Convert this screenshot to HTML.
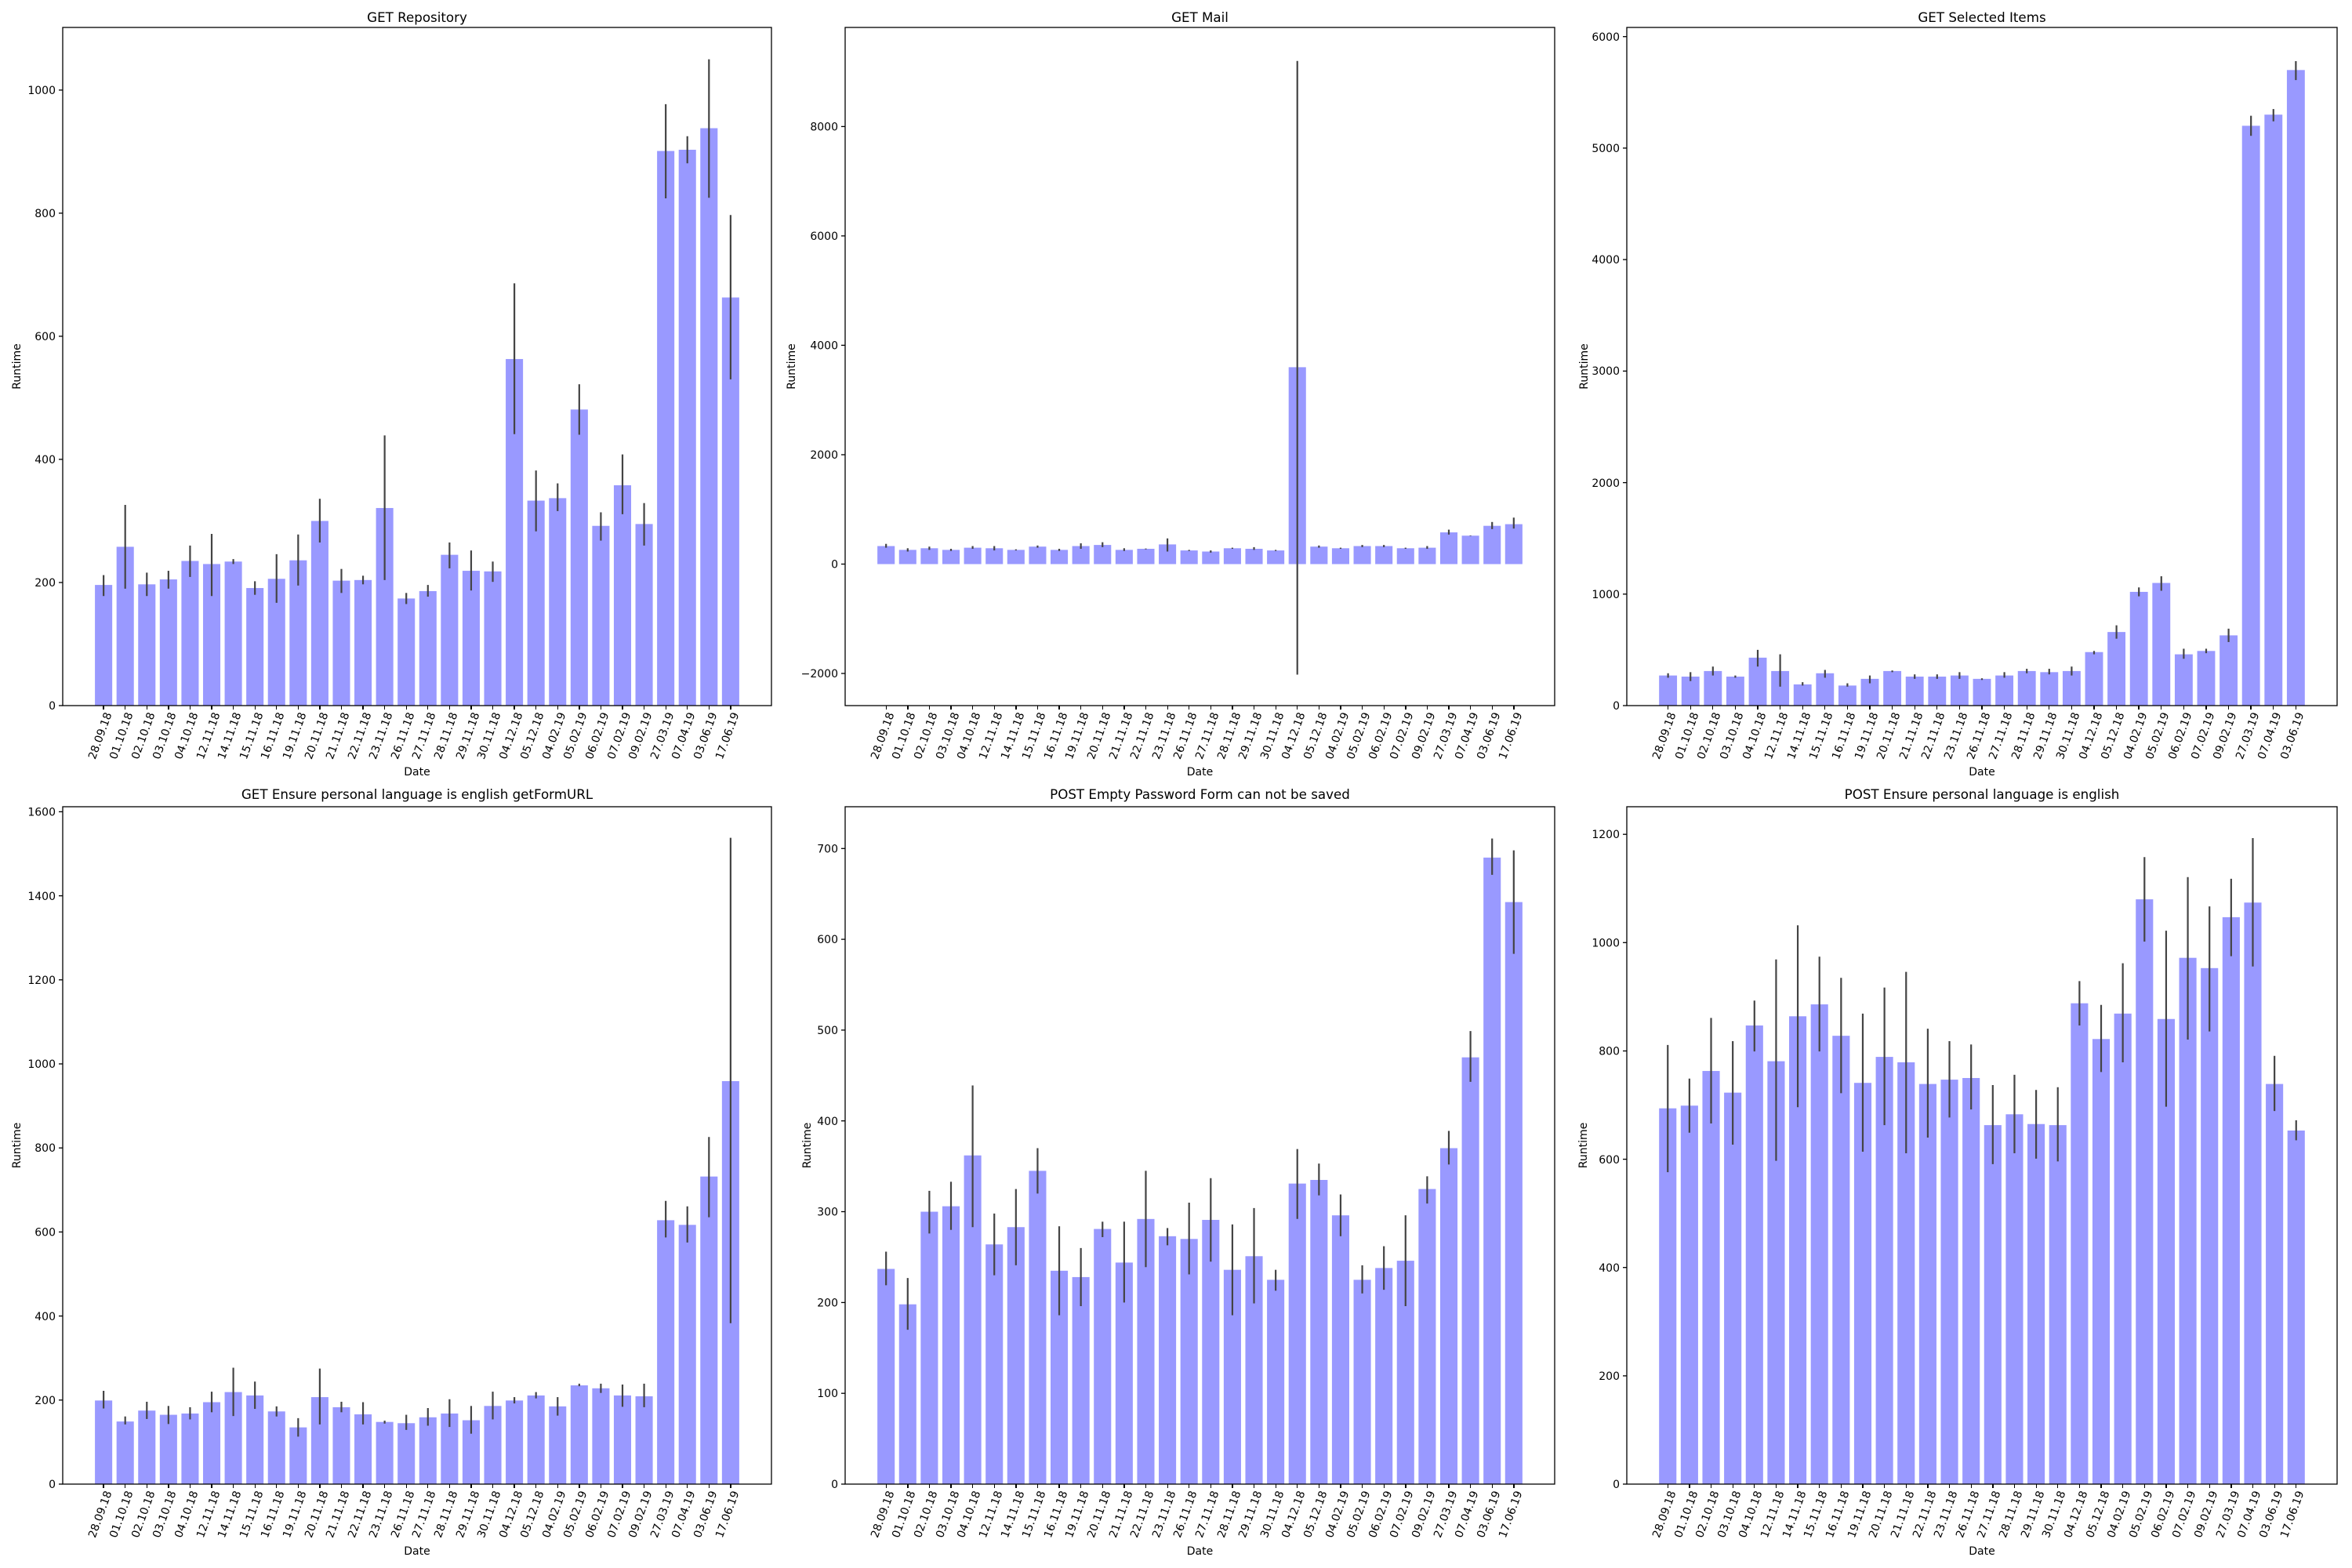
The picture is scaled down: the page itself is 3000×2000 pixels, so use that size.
<!DOCTYPE html>
<html><head><meta charset="utf-8">
<style>
html,body{margin:0;padding:0;background:#fff}
#w{position:relative;width:3000px;height:2000px;overflow:hidden;font-family:"DejaVu Sans","Liberation Sans",sans-serif}
svg.main{position:absolute;left:0;top:0}
.xl{position:absolute;display:flex;height:90px}
.xl div{flex:1;position:relative}
.xl div::before{content:"";position:absolute;left:50%;top:0;width:1.3px;height:5px;background:#000;margin-left:-0.6px}
.xl span{position:absolute;right:50%;top:7px;transform-origin:100% 0;transform:rotate(-70deg);white-space:nowrap;font:14px "DejaVu Sans",sans-serif;line-height:1;color:#000}
text{font-family:"DejaVu Sans","Liberation Sans",sans-serif;fill:#000}
.t{font-size:16.7px}
.k{font-size:14px}
rect.b{fill:#9999ff}
line.e{stroke:#444;stroke-width:2.2px}
</style></head><body><div id="w">
<svg class="main" width="3000" height="2000" viewBox="0 0 3000 2000">
<!-- ===== TL GET Repository ===== -->
<svg x="80" y="35" width="904" height="865" viewBox="-1.89 -1101.7 32.78 1101.7" preserveAspectRatio="none">
<g>
<rect class="b" x="-0.4" y="-196" width="0.8" height="196"/><rect class="b" x="0.6" y="-258" width="0.8" height="258"/><rect class="b" x="1.6" y="-197" width="0.8" height="197"/><rect class="b" x="2.6" y="-205" width="0.8" height="205"/><rect class="b" x="3.6" y="-235" width="0.8" height="235"/><rect class="b" x="4.6" y="-230" width="0.8" height="230"/><rect class="b" x="5.6" y="-234" width="0.8" height="234"/><rect class="b" x="6.6" y="-191" width="0.8" height="191"/><rect class="b" x="7.6" y="-206" width="0.8" height="206"/><rect class="b" x="8.6" y="-236" width="0.8" height="236"/><rect class="b" x="9.6" y="-300" width="0.8" height="300"/><rect class="b" x="10.6" y="-203" width="0.8" height="203"/><rect class="b" x="11.6" y="-204" width="0.8" height="204"/><rect class="b" x="12.6" y="-321" width="0.8" height="321"/><rect class="b" x="13.6" y="-174" width="0.8" height="174"/><rect class="b" x="14.6" y="-186" width="0.8" height="186"/><rect class="b" x="15.6" y="-245" width="0.8" height="245"/><rect class="b" x="16.6" y="-219" width="0.8" height="219"/><rect class="b" x="17.6" y="-218" width="0.8" height="218"/><rect class="b" x="18.6" y="-563" width="0.8" height="563"/><rect class="b" x="19.6" y="-333" width="0.8" height="333"/><rect class="b" x="20.6" y="-337" width="0.8" height="337"/><rect class="b" x="21.6" y="-481" width="0.8" height="481"/><rect class="b" x="22.6" y="-292" width="0.8" height="292"/><rect class="b" x="23.6" y="-358" width="0.8" height="358"/><rect class="b" x="24.6" y="-295" width="0.8" height="295"/><rect class="b" x="25.6" y="-901" width="0.8" height="901"/><rect class="b" x="26.6" y="-903" width="0.8" height="903"/><rect class="b" x="27.6" y="-938" width="0.8" height="938"/><rect class="b" x="28.6" y="-663" width="0.8" height="663"/>
</g><g vector-effect="non-scaling-stroke">
<line class="e" vector-effect="non-scaling-stroke" x1="0" x2="0" y1="-178" y2="-212"/><line class="e" vector-effect="non-scaling-stroke" x1="1" x2="1" y1="-190" y2="-326"/><line class="e" vector-effect="non-scaling-stroke" x1="2" x2="2" y1="-178" y2="-216"/><line class="e" vector-effect="non-scaling-stroke" x1="3" x2="3" y1="-190" y2="-219"/><line class="e" vector-effect="non-scaling-stroke" x1="4" x2="4" y1="-209" y2="-260"/><line class="e" vector-effect="non-scaling-stroke" x1="5" x2="5" y1="-178" y2="-279"/><line class="e" vector-effect="non-scaling-stroke" x1="6" x2="6" y1="-230" y2="-238"/><line class="e" vector-effect="non-scaling-stroke" x1="7" x2="7" y1="-180" y2="-202"/><line class="e" vector-effect="non-scaling-stroke" x1="8" x2="8" y1="-167" y2="-246"/><line class="e" vector-effect="non-scaling-stroke" x1="9" x2="9" y1="-195" y2="-278"/><line class="e" vector-effect="non-scaling-stroke" x1="10" x2="10" y1="-265" y2="-336"/><line class="e" vector-effect="non-scaling-stroke" x1="11" x2="11" y1="-183" y2="-222"/><line class="e" vector-effect="non-scaling-stroke" x1="12" x2="12" y1="-197" y2="-211"/><line class="e" vector-effect="non-scaling-stroke" x1="13" x2="13" y1="-204" y2="-439"/><line class="e" vector-effect="non-scaling-stroke" x1="14" x2="14" y1="-165" y2="-183"/><line class="e" vector-effect="non-scaling-stroke" x1="15" x2="15" y1="-177" y2="-196"/><line class="e" vector-effect="non-scaling-stroke" x1="16" x2="16" y1="-223" y2="-265"/><line class="e" vector-effect="non-scaling-stroke" x1="17" x2="17" y1="-187" y2="-252"/><line class="e" vector-effect="non-scaling-stroke" x1="18" x2="18" y1="-201" y2="-234"/><line class="e" vector-effect="non-scaling-stroke" x1="19" x2="19" y1="-441" y2="-686"/><line class="e" vector-effect="non-scaling-stroke" x1="20" x2="20" y1="-283" y2="-382"/><line class="e" vector-effect="non-scaling-stroke" x1="21" x2="21" y1="-316" y2="-361"/><line class="e" vector-effect="non-scaling-stroke" x1="22" x2="22" y1="-440" y2="-522"/><line class="e" vector-effect="non-scaling-stroke" x1="23" x2="23" y1="-268" y2="-314"/><line class="e" vector-effect="non-scaling-stroke" x1="24" x2="24" y1="-311" y2="-408"/><line class="e" vector-effect="non-scaling-stroke" x1="25" x2="25" y1="-260" y2="-329"/><line class="e" vector-effect="non-scaling-stroke" x1="26" x2="26" y1="-824" y2="-977"/><line class="e" vector-effect="non-scaling-stroke" x1="27" x2="27" y1="-881" y2="-925"/><line class="e" vector-effect="non-scaling-stroke" x1="28" x2="28" y1="-825" y2="-1050"/><line class="e" vector-effect="non-scaling-stroke" x1="29" x2="29" y1="-530" y2="-797"/>
</g></svg>
<rect x="80" y="35" width="904" height="865" fill="none" stroke="#000" stroke-width="1.3"/>
<g stroke="#000" stroke-width="1.3"><line x1="75" x2="80" y1="900" y2="900"/><line x1="75" x2="80" y1="743" y2="743"/><line x1="75" x2="80" y1="585.9" y2="585.9"/><line x1="75" x2="80" y1="428.9" y2="428.9"/><line x1="75" x2="80" y1="271.9" y2="271.9"/><line x1="75" x2="80" y1="114.9" y2="114.9"/></g>
<g class="k" text-anchor="end"><text x="71" y="905">0</text><text x="71" y="748">200</text><text x="71" y="591">400</text><text x="71" y="434">600</text><text x="71" y="277">800</text><text x="71" y="120">1000</text></g>
<text class="t" x="532" y="28" text-anchor="middle">GET Repository</text>
<text class="k" x="532" y="989" text-anchor="middle">Date</text>
<text class="k" transform="translate(26,467.5) rotate(-90)" text-anchor="middle">Runtime</text>

<!-- ===== TM GET Mail ===== -->
<svg x="1078" y="35" width="905" height="865" viewBox="-1.89 -9812 32.78 12399" preserveAspectRatio="none">
<g>
<rect class="b" x="-0.4" y="-330" width="0.8" height="330"/><rect class="b" x="0.6" y="-260" width="0.8" height="260"/><rect class="b" x="1.6" y="-290" width="0.8" height="290"/><rect class="b" x="2.6" y="-260" width="0.8" height="260"/><rect class="b" x="3.6" y="-300" width="0.8" height="300"/><rect class="b" x="4.6" y="-290" width="0.8" height="290"/><rect class="b" x="5.6" y="-260" width="0.8" height="260"/><rect class="b" x="6.6" y="-320" width="0.8" height="320"/><rect class="b" x="7.6" y="-260" width="0.8" height="260"/><rect class="b" x="8.6" y="-330" width="0.8" height="330"/><rect class="b" x="9.6" y="-350" width="0.8" height="350"/><rect class="b" x="10.6" y="-260" width="0.8" height="260"/><rect class="b" x="11.6" y="-280" width="0.8" height="280"/><rect class="b" x="12.6" y="-360" width="0.8" height="360"/><rect class="b" x="13.6" y="-250" width="0.8" height="250"/><rect class="b" x="14.6" y="-230" width="0.8" height="230"/><rect class="b" x="15.6" y="-290" width="0.8" height="290"/><rect class="b" x="16.6" y="-280" width="0.8" height="280"/><rect class="b" x="17.6" y="-250" width="0.8" height="250"/><rect class="b" x="18.6" y="-3600" width="0.8" height="3600"/><rect class="b" x="19.6" y="-320" width="0.8" height="320"/><rect class="b" x="20.6" y="-290" width="0.8" height="290"/><rect class="b" x="21.6" y="-330" width="0.8" height="330"/><rect class="b" x="22.6" y="-330" width="0.8" height="330"/><rect class="b" x="23.6" y="-290" width="0.8" height="290"/><rect class="b" x="24.6" y="-300" width="0.8" height="300"/><rect class="b" x="25.6" y="-580" width="0.8" height="580"/><rect class="b" x="26.6" y="-520" width="0.8" height="520"/><rect class="b" x="27.6" y="-700" width="0.8" height="700"/><rect class="b" x="28.6" y="-730" width="0.8" height="730"/>
</g><g>
<line class="e" vector-effect="non-scaling-stroke" x1="0" x2="0" y1="-300" y2="-370"/><line class="e" vector-effect="non-scaling-stroke" x1="1" x2="1" y1="-230" y2="-290"/><line class="e" vector-effect="non-scaling-stroke" x1="2" x2="2" y1="-260" y2="-320"/><line class="e" vector-effect="non-scaling-stroke" x1="3" x2="3" y1="-240" y2="-280"/><line class="e" vector-effect="non-scaling-stroke" x1="4" x2="4" y1="-280" y2="-330"/><line class="e" vector-effect="non-scaling-stroke" x1="5" x2="5" y1="-250" y2="-330"/><line class="e" vector-effect="non-scaling-stroke" x1="6" x2="6" y1="-250" y2="-270"/><line class="e" vector-effect="non-scaling-stroke" x1="7" x2="7" y1="-300" y2="-340"/><line class="e" vector-effect="non-scaling-stroke" x1="8" x2="8" y1="-240" y2="-280"/><line class="e" vector-effect="non-scaling-stroke" x1="9" x2="9" y1="-280" y2="-380"/><line class="e" vector-effect="non-scaling-stroke" x1="10" x2="10" y1="-310" y2="-400"/><line class="e" vector-effect="non-scaling-stroke" x1="11" x2="11" y1="-240" y2="-290"/><line class="e" vector-effect="non-scaling-stroke" x1="12" x2="12" y1="-270" y2="-285"/><line class="e" vector-effect="non-scaling-stroke" x1="13" x2="13" y1="-230" y2="-470"/><line class="e" vector-effect="non-scaling-stroke" x1="14" x2="14" y1="-240" y2="-260"/><line class="e" vector-effect="non-scaling-stroke" x1="15" x2="15" y1="-210" y2="-250"/><line class="e" vector-effect="non-scaling-stroke" x1="16" x2="16" y1="-280" y2="-300"/><line class="e" vector-effect="non-scaling-stroke" x1="17" x2="17" y1="-260" y2="-310"/><line class="e" vector-effect="non-scaling-stroke" x1="18" x2="18" y1="-240" y2="-260"/><line class="e" vector-effect="non-scaling-stroke" x1="19" x2="19" y1="2020" y2="-9200"/><line class="e" vector-effect="non-scaling-stroke" x1="20" x2="20" y1="-300" y2="-340"/><line class="e" vector-effect="non-scaling-stroke" x1="21" x2="21" y1="-280" y2="-300"/><line class="e" vector-effect="non-scaling-stroke" x1="22" x2="22" y1="-310" y2="-350"/><line class="e" vector-effect="non-scaling-stroke" x1="23" x2="23" y1="-310" y2="-350"/><line class="e" vector-effect="non-scaling-stroke" x1="24" x2="24" y1="-280" y2="-300"/><line class="e" vector-effect="non-scaling-stroke" x1="25" x2="25" y1="-280" y2="-330"/><line class="e" vector-effect="non-scaling-stroke" x1="26" x2="26" y1="-540" y2="-630"/><line class="e" vector-effect="non-scaling-stroke" x1="27" x2="27" y1="-515" y2="-525"/><line class="e" vector-effect="non-scaling-stroke" x1="28" x2="28" y1="-640" y2="-770"/><line class="e" vector-effect="non-scaling-stroke" x1="29" x2="29" y1="-650" y2="-850"/>
</g></svg>
<rect x="1078" y="35" width="905" height="865" fill="none" stroke="#000" stroke-width="1.3"/>
<g stroke="#000" stroke-width="1.3"><line x1="1073" x2="1078" y1="859" y2="859"/><line x1="1073" x2="1078" y1="719.5" y2="719.5"/><line x1="1073" x2="1078" y1="580" y2="580"/><line x1="1073" x2="1078" y1="440.4" y2="440.4"/><line x1="1073" x2="1078" y1="300.9" y2="300.9"/><line x1="1073" x2="1078" y1="161.4" y2="161.4"/></g>
<g class="k" text-anchor="end"><text x="1069" y="864">−2000</text><text x="1069" y="724.5">0</text><text x="1069" y="585">2000</text><text x="1069" y="445.5">4000</text><text x="1069" y="306">6000</text><text x="1069" y="166.5">8000</text></g>
<text class="t" x="1530.5" y="28" text-anchor="middle">GET Mail</text>
<text class="k" x="1530.5" y="989" text-anchor="middle">Date</text>
<text class="k" transform="translate(1014,467.5) rotate(-90)" text-anchor="middle">Runtime</text>

<!-- ===== TR GET Selected Items ===== -->
<svg x="2075" y="35" width="906" height="865" viewBox="-1.84 -6082 31.68 6082" preserveAspectRatio="none">
<g>
<rect class="b" x="-0.4" y="-270" width="0.8" height="270"/><rect class="b" x="0.6" y="-260" width="0.8" height="260"/><rect class="b" x="1.6" y="-310" width="0.8" height="310"/><rect class="b" x="2.6" y="-260" width="0.8" height="260"/><rect class="b" x="3.6" y="-430" width="0.8" height="430"/><rect class="b" x="4.6" y="-310" width="0.8" height="310"/><rect class="b" x="5.6" y="-190" width="0.8" height="190"/><rect class="b" x="6.6" y="-290" width="0.8" height="290"/><rect class="b" x="7.6" y="-180" width="0.8" height="180"/><rect class="b" x="8.6" y="-240" width="0.8" height="240"/><rect class="b" x="9.6" y="-310" width="0.8" height="310"/><rect class="b" x="10.6" y="-260" width="0.8" height="260"/><rect class="b" x="11.6" y="-260" width="0.8" height="260"/><rect class="b" x="12.6" y="-270" width="0.8" height="270"/><rect class="b" x="13.6" y="-240" width="0.8" height="240"/><rect class="b" x="14.6" y="-270" width="0.8" height="270"/><rect class="b" x="15.6" y="-310" width="0.8" height="310"/><rect class="b" x="16.6" y="-300" width="0.8" height="300"/><rect class="b" x="17.6" y="-310" width="0.8" height="310"/><rect class="b" x="18.6" y="-480" width="0.8" height="480"/><rect class="b" x="19.6" y="-660" width="0.8" height="660"/><rect class="b" x="20.6" y="-1020" width="0.8" height="1020"/><rect class="b" x="21.6" y="-1100" width="0.8" height="1100"/><rect class="b" x="22.6" y="-460" width="0.8" height="460"/><rect class="b" x="23.6" y="-490" width="0.8" height="490"/><rect class="b" x="24.6" y="-630" width="0.8" height="630"/><rect class="b" x="25.6" y="-5200" width="0.8" height="5200"/><rect class="b" x="26.6" y="-5300" width="0.8" height="5300"/><rect class="b" x="27.6" y="-5700" width="0.8" height="5700"/>
</g><g>
<line class="e" vector-effect="non-scaling-stroke" x1="0" x2="0" y1="-250" y2="-290"/><line class="e" vector-effect="non-scaling-stroke" x1="1" x2="1" y1="-220" y2="-300"/><line class="e" vector-effect="non-scaling-stroke" x1="2" x2="2" y1="-270" y2="-350"/><line class="e" vector-effect="non-scaling-stroke" x1="3" x2="3" y1="-250" y2="-270"/><line class="e" vector-effect="non-scaling-stroke" x1="4" x2="4" y1="-350" y2="-500"/><line class="e" vector-effect="non-scaling-stroke" x1="5" x2="5" y1="-170" y2="-460"/><line class="e" vector-effect="non-scaling-stroke" x1="6" x2="6" y1="-180" y2="-210"/><line class="e" vector-effect="non-scaling-stroke" x1="7" x2="7" y1="-250" y2="-320"/><line class="e" vector-effect="non-scaling-stroke" x1="8" x2="8" y1="-170" y2="-200"/><line class="e" vector-effect="non-scaling-stroke" x1="9" x2="9" y1="-200" y2="-270"/><line class="e" vector-effect="non-scaling-stroke" x1="10" x2="10" y1="-300" y2="-315"/><line class="e" vector-effect="non-scaling-stroke" x1="11" x2="11" y1="-240" y2="-280"/><line class="e" vector-effect="non-scaling-stroke" x1="12" x2="12" y1="-240" y2="-280"/><line class="e" vector-effect="non-scaling-stroke" x1="13" x2="13" y1="-240" y2="-300"/><line class="e" vector-effect="non-scaling-stroke" x1="14" x2="14" y1="-230" y2="-245"/><line class="e" vector-effect="non-scaling-stroke" x1="15" x2="15" y1="-250" y2="-300"/><line class="e" vector-effect="non-scaling-stroke" x1="16" x2="16" y1="-290" y2="-330"/><line class="e" vector-effect="non-scaling-stroke" x1="17" x2="17" y1="-280" y2="-330"/><line class="e" vector-effect="non-scaling-stroke" x1="18" x2="18" y1="-270" y2="-350"/><line class="e" vector-effect="non-scaling-stroke" x1="19" x2="19" y1="-460" y2="-490"/><line class="e" vector-effect="non-scaling-stroke" x1="20" x2="20" y1="-600" y2="-720"/><line class="e" vector-effect="non-scaling-stroke" x1="21" x2="21" y1="-980" y2="-1060"/><line class="e" vector-effect="non-scaling-stroke" x1="22" x2="22" y1="-1030" y2="-1160"/><line class="e" vector-effect="non-scaling-stroke" x1="23" x2="23" y1="-420" y2="-510"/><line class="e" vector-effect="non-scaling-stroke" x1="24" x2="24" y1="-470" y2="-510"/><line class="e" vector-effect="non-scaling-stroke" x1="25" x2="25" y1="-570" y2="-690"/><line class="e" vector-effect="non-scaling-stroke" x1="26" x2="26" y1="-5110" y2="-5290"/><line class="e" vector-effect="non-scaling-stroke" x1="27" x2="27" y1="-5240" y2="-5350"/><line class="e" vector-effect="non-scaling-stroke" x1="28" x2="28" y1="-5610" y2="-5780"/>
</g></svg>
<rect x="2075" y="35" width="906" height="865" fill="none" stroke="#000" stroke-width="1.3"/>
<g stroke="#000" stroke-width="1.3"><line x1="2070" x2="2075" y1="900" y2="900"/><line x1="2070" x2="2075" y1="757.8" y2="757.8"/><line x1="2070" x2="2075" y1="615.6" y2="615.6"/><line x1="2070" x2="2075" y1="473.3" y2="473.3"/><line x1="2070" x2="2075" y1="331.1" y2="331.1"/><line x1="2070" x2="2075" y1="188.9" y2="188.9"/><line x1="2070" x2="2075" y1="46.7" y2="46.7"/></g>
<g class="k" text-anchor="end"><text x="2066" y="905">0</text><text x="2066" y="763">1000</text><text x="2066" y="621">2000</text><text x="2066" y="478">3000</text><text x="2066" y="336">4000</text><text x="2066" y="194">5000</text><text x="2066" y="52">6000</text></g>
<text class="t" x="2528" y="28" text-anchor="middle">GET Selected Items</text>
<text class="k" x="2528" y="989" text-anchor="middle">Date</text>
<text class="k" transform="translate(2025,467.5) rotate(-90)" text-anchor="middle">Runtime</text>

<!-- ===== BL ===== -->
<svg x="80" y="1029" width="904" height="864" viewBox="-1.89 -1612 32.78 1612" preserveAspectRatio="none">
<g>
<rect class="b" x="-0.4" y="-199" width="0.8" height="199"/><rect class="b" x="0.6" y="-149" width="0.8" height="149"/><rect class="b" x="1.6" y="-175" width="0.8" height="175"/><rect class="b" x="2.6" y="-165" width="0.8" height="165"/><rect class="b" x="3.6" y="-168" width="0.8" height="168"/><rect class="b" x="4.6" y="-195" width="0.8" height="195"/><rect class="b" x="5.6" y="-219" width="0.8" height="219"/><rect class="b" x="6.6" y="-211" width="0.8" height="211"/><rect class="b" x="7.6" y="-173" width="0.8" height="173"/><rect class="b" x="8.6" y="-135" width="0.8" height="135"/><rect class="b" x="9.6" y="-207" width="0.8" height="207"/><rect class="b" x="10.6" y="-183" width="0.8" height="183"/><rect class="b" x="11.6" y="-166" width="0.8" height="166"/><rect class="b" x="12.6" y="-148" width="0.8" height="148"/><rect class="b" x="13.6" y="-145" width="0.8" height="145"/><rect class="b" x="14.6" y="-159" width="0.8" height="159"/><rect class="b" x="15.6" y="-168" width="0.8" height="168"/><rect class="b" x="16.6" y="-152" width="0.8" height="152"/><rect class="b" x="17.6" y="-186" width="0.8" height="186"/><rect class="b" x="18.6" y="-199" width="0.8" height="199"/><rect class="b" x="19.6" y="-211" width="0.8" height="211"/><rect class="b" x="20.6" y="-185" width="0.8" height="185"/><rect class="b" x="21.6" y="-235" width="0.8" height="235"/><rect class="b" x="22.6" y="-228" width="0.8" height="228"/><rect class="b" x="23.6" y="-211" width="0.8" height="211"/><rect class="b" x="24.6" y="-209" width="0.8" height="209"/><rect class="b" x="25.6" y="-628" width="0.8" height="628"/><rect class="b" x="26.6" y="-617" width="0.8" height="617"/><rect class="b" x="27.6" y="-732" width="0.8" height="732"/><rect class="b" x="28.6" y="-959" width="0.8" height="959"/>
</g><g>
<line class="e" vector-effect="non-scaling-stroke" x1="0" x2="0" y1="-180" y2="-222"/><line class="e" vector-effect="non-scaling-stroke" x1="1" x2="1" y1="-142" y2="-161"/><line class="e" vector-effect="non-scaling-stroke" x1="2" x2="2" y1="-155" y2="-196"/><line class="e" vector-effect="non-scaling-stroke" x1="3" x2="3" y1="-143" y2="-186"/><line class="e" vector-effect="non-scaling-stroke" x1="4" x2="4" y1="-154" y2="-183"/><line class="e" vector-effect="non-scaling-stroke" x1="5" x2="5" y1="-171" y2="-220"/><line class="e" vector-effect="non-scaling-stroke" x1="6" x2="6" y1="-162" y2="-277"/><line class="e" vector-effect="non-scaling-stroke" x1="7" x2="7" y1="-179" y2="-244"/><line class="e" vector-effect="non-scaling-stroke" x1="8" x2="8" y1="-161" y2="-185"/><line class="e" vector-effect="non-scaling-stroke" x1="9" x2="9" y1="-113" y2="-157"/><line class="e" vector-effect="non-scaling-stroke" x1="10" x2="10" y1="-142" y2="-275"/><line class="e" vector-effect="non-scaling-stroke" x1="11" x2="11" y1="-171" y2="-196"/><line class="e" vector-effect="non-scaling-stroke" x1="12" x2="12" y1="-142" y2="-195"/><line class="e" vector-effect="non-scaling-stroke" x1="13" x2="13" y1="-144" y2="-151"/><line class="e" vector-effect="non-scaling-stroke" x1="14" x2="14" y1="-129" y2="-165"/><line class="e" vector-effect="non-scaling-stroke" x1="15" x2="15" y1="-139" y2="-181"/><line class="e" vector-effect="non-scaling-stroke" x1="16" x2="16" y1="-136" y2="-202"/><line class="e" vector-effect="non-scaling-stroke" x1="17" x2="17" y1="-120" y2="-186"/><line class="e" vector-effect="non-scaling-stroke" x1="18" x2="18" y1="-154" y2="-220"/><line class="e" vector-effect="non-scaling-stroke" x1="19" x2="19" y1="-192" y2="-207"/><line class="e" vector-effect="non-scaling-stroke" x1="20" x2="20" y1="-204" y2="-219"/><line class="e" vector-effect="non-scaling-stroke" x1="21" x2="21" y1="-163" y2="-207"/><line class="e" vector-effect="non-scaling-stroke" x1="22" x2="22" y1="-233" y2="-239"/><line class="e" vector-effect="non-scaling-stroke" x1="23" x2="23" y1="-217" y2="-239"/><line class="e" vector-effect="non-scaling-stroke" x1="24" x2="24" y1="-184" y2="-237"/><line class="e" vector-effect="non-scaling-stroke" x1="25" x2="25" y1="-183" y2="-239"/><line class="e" vector-effect="non-scaling-stroke" x1="26" x2="26" y1="-587" y2="-674"/><line class="e" vector-effect="non-scaling-stroke" x1="27" x2="27" y1="-575" y2="-661"/><line class="e" vector-effect="non-scaling-stroke" x1="28" x2="28" y1="-635" y2="-826"/><line class="e" vector-effect="non-scaling-stroke" x1="29" x2="29" y1="-383" y2="-1538"/>
</g></svg>
<rect x="80" y="1029" width="904" height="864" fill="none" stroke="#000" stroke-width="1.3"/>
<g stroke="#000" stroke-width="1.3"><line x1="75" x2="80" y1="1893" y2="1893"/><line x1="75" x2="80" y1="1785.8" y2="1785.8"/><line x1="75" x2="80" y1="1678.6" y2="1678.6"/><line x1="75" x2="80" y1="1571.4" y2="1571.4"/><line x1="75" x2="80" y1="1464.2" y2="1464.2"/><line x1="75" x2="80" y1="1357" y2="1357"/><line x1="75" x2="80" y1="1249.8" y2="1249.8"/><line x1="75" x2="80" y1="1142.6" y2="1142.6"/><line x1="75" x2="80" y1="1035.4" y2="1035.4"/></g>
<g class="k" text-anchor="end"><text x="71" y="1898">0</text><text x="71" y="1791">200</text><text x="71" y="1684">400</text><text x="71" y="1576.5">600</text><text x="71" y="1469">800</text><text x="71" y="1362">1000</text><text x="71" y="1255">1200</text><text x="71" y="1148">1400</text><text x="71" y="1040.5">1600</text></g>
<text class="t" x="532" y="1019" text-anchor="middle">GET Ensure personal language is english getFormURL</text>
<text class="k" x="532" y="1983" text-anchor="middle">Date</text>
<text class="k" transform="translate(26,1461) rotate(-90)" text-anchor="middle">Runtime</text>

<!-- ===== BM ===== -->
<svg x="1078" y="1029" width="905" height="864" viewBox="-1.89 -746 32.78 746" preserveAspectRatio="none">
<g>
<rect class="b" x="-0.4" y="-237" width="0.8" height="237"/><rect class="b" x="0.6" y="-198" width="0.8" height="198"/><rect class="b" x="1.6" y="-300" width="0.8" height="300"/><rect class="b" x="2.6" y="-306" width="0.8" height="306"/><rect class="b" x="3.6" y="-362" width="0.8" height="362"/><rect class="b" x="4.6" y="-264" width="0.8" height="264"/><rect class="b" x="5.6" y="-283" width="0.8" height="283"/><rect class="b" x="6.6" y="-345" width="0.8" height="345"/><rect class="b" x="7.6" y="-235" width="0.8" height="235"/><rect class="b" x="8.6" y="-228" width="0.8" height="228"/><rect class="b" x="9.6" y="-281" width="0.8" height="281"/><rect class="b" x="10.6" y="-244" width="0.8" height="244"/><rect class="b" x="11.6" y="-292" width="0.8" height="292"/><rect class="b" x="12.6" y="-273" width="0.8" height="273"/><rect class="b" x="13.6" y="-270" width="0.8" height="270"/><rect class="b" x="14.6" y="-291" width="0.8" height="291"/><rect class="b" x="15.6" y="-236" width="0.8" height="236"/><rect class="b" x="16.6" y="-251" width="0.8" height="251"/><rect class="b" x="17.6" y="-225" width="0.8" height="225"/><rect class="b" x="18.6" y="-331" width="0.8" height="331"/><rect class="b" x="19.6" y="-335" width="0.8" height="335"/><rect class="b" x="20.6" y="-296" width="0.8" height="296"/><rect class="b" x="21.6" y="-225" width="0.8" height="225"/><rect class="b" x="22.6" y="-238" width="0.8" height="238"/><rect class="b" x="23.6" y="-246" width="0.8" height="246"/><rect class="b" x="24.6" y="-325" width="0.8" height="325"/><rect class="b" x="25.6" y="-370" width="0.8" height="370"/><rect class="b" x="26.6" y="-470" width="0.8" height="470"/><rect class="b" x="27.6" y="-690" width="0.8" height="690"/><rect class="b" x="28.6" y="-641" width="0.8" height="641"/>
</g><g>
<line class="e" vector-effect="non-scaling-stroke" x1="0" x2="0" y1="-219" y2="-256"/><line class="e" vector-effect="non-scaling-stroke" x1="1" x2="1" y1="-170" y2="-227"/><line class="e" vector-effect="non-scaling-stroke" x1="2" x2="2" y1="-276" y2="-323"/><line class="e" vector-effect="non-scaling-stroke" x1="3" x2="3" y1="-280" y2="-333"/><line class="e" vector-effect="non-scaling-stroke" x1="4" x2="4" y1="-283" y2="-439"/><line class="e" vector-effect="non-scaling-stroke" x1="5" x2="5" y1="-230" y2="-298"/><line class="e" vector-effect="non-scaling-stroke" x1="6" x2="6" y1="-241" y2="-325"/><line class="e" vector-effect="non-scaling-stroke" x1="7" x2="7" y1="-320" y2="-370"/><line class="e" vector-effect="non-scaling-stroke" x1="8" x2="8" y1="-186" y2="-284"/><line class="e" vector-effect="non-scaling-stroke" x1="9" x2="9" y1="-196" y2="-260"/><line class="e" vector-effect="non-scaling-stroke" x1="10" x2="10" y1="-272" y2="-289"/><line class="e" vector-effect="non-scaling-stroke" x1="11" x2="11" y1="-200" y2="-289"/><line class="e" vector-effect="non-scaling-stroke" x1="12" x2="12" y1="-239" y2="-345"/><line class="e" vector-effect="non-scaling-stroke" x1="13" x2="13" y1="-263" y2="-282"/><line class="e" vector-effect="non-scaling-stroke" x1="14" x2="14" y1="-231" y2="-310"/><line class="e" vector-effect="non-scaling-stroke" x1="15" x2="15" y1="-245" y2="-337"/><line class="e" vector-effect="non-scaling-stroke" x1="16" x2="16" y1="-186" y2="-286"/><line class="e" vector-effect="non-scaling-stroke" x1="17" x2="17" y1="-199" y2="-304"/><line class="e" vector-effect="non-scaling-stroke" x1="18" x2="18" y1="-213" y2="-236"/><line class="e" vector-effect="non-scaling-stroke" x1="19" x2="19" y1="-292" y2="-369"/><line class="e" vector-effect="non-scaling-stroke" x1="20" x2="20" y1="-318" y2="-353"/><line class="e" vector-effect="non-scaling-stroke" x1="21" x2="21" y1="-273" y2="-319"/><line class="e" vector-effect="non-scaling-stroke" x1="22" x2="22" y1="-210" y2="-241"/><line class="e" vector-effect="non-scaling-stroke" x1="23" x2="23" y1="-214" y2="-262"/><line class="e" vector-effect="non-scaling-stroke" x1="24" x2="24" y1="-196" y2="-296"/><line class="e" vector-effect="non-scaling-stroke" x1="25" x2="25" y1="-309" y2="-339"/><line class="e" vector-effect="non-scaling-stroke" x1="26" x2="26" y1="-352" y2="-389"/><line class="e" vector-effect="non-scaling-stroke" x1="27" x2="27" y1="-443" y2="-499"/><line class="e" vector-effect="non-scaling-stroke" x1="28" x2="28" y1="-671" y2="-711"/><line class="e" vector-effect="non-scaling-stroke" x1="29" x2="29" y1="-584" y2="-698"/>
</g></svg>
<rect x="1078" y="1029" width="905" height="864" fill="none" stroke="#000" stroke-width="1.3"/>
<g stroke="#000" stroke-width="1.3"><line x1="1073" x2="1078" y1="1893" y2="1893"/><line x1="1073" x2="1078" y1="1777.2" y2="1777.2"/><line x1="1073" x2="1078" y1="1661.4" y2="1661.4"/><line x1="1073" x2="1078" y1="1545.5" y2="1545.5"/><line x1="1073" x2="1078" y1="1429.7" y2="1429.7"/><line x1="1073" x2="1078" y1="1313.9" y2="1313.9"/><line x1="1073" x2="1078" y1="1198.1" y2="1198.1"/><line x1="1073" x2="1078" y1="1082.3" y2="1082.3"/></g>
<g class="k" text-anchor="end"><text x="1069" y="1898">0</text><text x="1069" y="1782">100</text><text x="1069" y="1666.5">200</text><text x="1069" y="1550.5">300</text><text x="1069" y="1435">400</text><text x="1069" y="1319">500</text><text x="1069" y="1203">600</text><text x="1069" y="1087.5">700</text></g>
<text class="t" x="1530.5" y="1019" text-anchor="middle">POST Empty Password Form can not be saved</text>
<text class="k" x="1530.5" y="1983" text-anchor="middle">Date</text>
<text class="k" transform="translate(1034,1461) rotate(-90)" text-anchor="middle">Runtime</text>

<!-- ===== BR ===== -->
<svg x="2075" y="1029" width="906" height="864" viewBox="-1.89 -1251 32.78 1251" preserveAspectRatio="none">
<g>
<rect class="b" x="-0.4" y="-694" width="0.8" height="694"/><rect class="b" x="0.6" y="-699" width="0.8" height="699"/><rect class="b" x="1.6" y="-763" width="0.8" height="763"/><rect class="b" x="2.6" y="-723" width="0.8" height="723"/><rect class="b" x="3.6" y="-847" width="0.8" height="847"/><rect class="b" x="4.6" y="-781" width="0.8" height="781"/><rect class="b" x="5.6" y="-864" width="0.8" height="864"/><rect class="b" x="6.6" y="-886" width="0.8" height="886"/><rect class="b" x="7.6" y="-828" width="0.8" height="828"/><rect class="b" x="8.6" y="-741" width="0.8" height="741"/><rect class="b" x="9.6" y="-789" width="0.8" height="789"/><rect class="b" x="10.6" y="-779" width="0.8" height="779"/><rect class="b" x="11.6" y="-739" width="0.8" height="739"/><rect class="b" x="12.6" y="-747" width="0.8" height="747"/><rect class="b" x="13.6" y="-750" width="0.8" height="750"/><rect class="b" x="14.6" y="-663" width="0.8" height="663"/><rect class="b" x="15.6" y="-683" width="0.8" height="683"/><rect class="b" x="16.6" y="-665" width="0.8" height="665"/><rect class="b" x="17.6" y="-663" width="0.8" height="663"/><rect class="b" x="18.6" y="-888" width="0.8" height="888"/><rect class="b" x="19.6" y="-822" width="0.8" height="822"/><rect class="b" x="20.6" y="-869" width="0.8" height="869"/><rect class="b" x="21.6" y="-1080" width="0.8" height="1080"/><rect class="b" x="22.6" y="-859" width="0.8" height="859"/><rect class="b" x="23.6" y="-972" width="0.8" height="972"/><rect class="b" x="24.6" y="-953" width="0.8" height="953"/><rect class="b" x="25.6" y="-1047" width="0.8" height="1047"/><rect class="b" x="26.6" y="-1074" width="0.8" height="1074"/><rect class="b" x="27.6" y="-739" width="0.8" height="739"/><rect class="b" x="28.6" y="-653" width="0.8" height="653"/>
</g><g>
<line class="e" vector-effect="non-scaling-stroke" x1="0" x2="0" y1="-576" y2="-811"/><line class="e" vector-effect="non-scaling-stroke" x1="1" x2="1" y1="-649" y2="-749"/><line class="e" vector-effect="non-scaling-stroke" x1="2" x2="2" y1="-666" y2="-861"/><line class="e" vector-effect="non-scaling-stroke" x1="3" x2="3" y1="-627" y2="-818"/><line class="e" vector-effect="non-scaling-stroke" x1="4" x2="4" y1="-799" y2="-893"/><line class="e" vector-effect="non-scaling-stroke" x1="5" x2="5" y1="-597" y2="-969"/><line class="e" vector-effect="non-scaling-stroke" x1="6" x2="6" y1="-696" y2="-1032"/><line class="e" vector-effect="non-scaling-stroke" x1="7" x2="7" y1="-799" y2="-974"/><line class="e" vector-effect="non-scaling-stroke" x1="8" x2="8" y1="-722" y2="-935"/><line class="e" vector-effect="non-scaling-stroke" x1="9" x2="9" y1="-614" y2="-869"/><line class="e" vector-effect="non-scaling-stroke" x1="10" x2="10" y1="-663" y2="-917"/><line class="e" vector-effect="non-scaling-stroke" x1="11" x2="11" y1="-611" y2="-946"/><line class="e" vector-effect="non-scaling-stroke" x1="12" x2="12" y1="-640" y2="-841"/><line class="e" vector-effect="non-scaling-stroke" x1="13" x2="13" y1="-677" y2="-818"/><line class="e" vector-effect="non-scaling-stroke" x1="14" x2="14" y1="-692" y2="-812"/><line class="e" vector-effect="non-scaling-stroke" x1="15" x2="15" y1="-591" y2="-737"/><line class="e" vector-effect="non-scaling-stroke" x1="16" x2="16" y1="-611" y2="-756"/><line class="e" vector-effect="non-scaling-stroke" x1="17" x2="17" y1="-601" y2="-728"/><line class="e" vector-effect="non-scaling-stroke" x1="18" x2="18" y1="-596" y2="-733"/><line class="e" vector-effect="non-scaling-stroke" x1="19" x2="19" y1="-847" y2="-929"/><line class="e" vector-effect="non-scaling-stroke" x1="20" x2="20" y1="-761" y2="-885"/><line class="e" vector-effect="non-scaling-stroke" x1="21" x2="21" y1="-779" y2="-962"/><line class="e" vector-effect="non-scaling-stroke" x1="22" x2="22" y1="-1002" y2="-1158"/><line class="e" vector-effect="non-scaling-stroke" x1="23" x2="23" y1="-697" y2="-1022"/><line class="e" vector-effect="non-scaling-stroke" x1="24" x2="24" y1="-821" y2="-1121"/><line class="e" vector-effect="non-scaling-stroke" x1="25" x2="25" y1="-836" y2="-1067"/><line class="e" vector-effect="non-scaling-stroke" x1="26" x2="26" y1="-975" y2="-1118"/><line class="e" vector-effect="non-scaling-stroke" x1="27" x2="27" y1="-956" y2="-1193"/><line class="e" vector-effect="non-scaling-stroke" x1="28" x2="28" y1="-689" y2="-791"/><line class="e" vector-effect="non-scaling-stroke" x1="29" x2="29" y1="-635" y2="-672"/>
</g></svg>
<rect x="2075" y="1029" width="906" height="864" fill="none" stroke="#000" stroke-width="1.3"/>
<g stroke="#000" stroke-width="1.3"><line x1="2070" x2="2075" y1="1893" y2="1893"/><line x1="2070" x2="2075" y1="1754.9" y2="1754.9"/><line x1="2070" x2="2075" y1="1616.7" y2="1616.7"/><line x1="2070" x2="2075" y1="1478.6" y2="1478.6"/><line x1="2070" x2="2075" y1="1340.5" y2="1340.5"/><line x1="2070" x2="2075" y1="1202.3" y2="1202.3"/><line x1="2070" x2="2075" y1="1064.2" y2="1064.2"/></g>
<g class="k" text-anchor="end"><text x="2066" y="1898">0</text><text x="2066" y="1760">200</text><text x="2066" y="1622">400</text><text x="2066" y="1484">600</text><text x="2066" y="1345.5">800</text><text x="2066" y="1207.5">1000</text><text x="2066" y="1069">1200</text></g>
<text class="t" x="2528" y="1019" text-anchor="middle">POST Ensure personal language is english</text>
<text class="k" x="2528" y="1983" text-anchor="middle">Date</text>
<text class="k" transform="translate(2024,1461) rotate(-90)" text-anchor="middle">Runtime</text>
</svg>

<!-- x tick labels -->
<div class="xl" style="left:118.3px;top:900px;width:827.3px"><div><span>28.09.18</span></div><div><span>01.10.18</span></div><div><span>02.10.18</span></div><div><span>03.10.18</span></div><div><span>04.10.18</span></div><div><span>12.11.18</span></div><div><span>14.11.18</span></div><div><span>15.11.18</span></div><div><span>16.11.18</span></div><div><span>19.11.18</span></div><div><span>20.11.18</span></div><div><span>21.11.18</span></div><div><span>22.11.18</span></div><div><span>23.11.18</span></div><div><span>26.11.18</span></div><div><span>27.11.18</span></div><div><span>28.11.18</span></div><div><span>29.11.18</span></div><div><span>30.11.18</span></div><div><span>04.12.18</span></div><div><span>05.12.18</span></div><div><span>04.02.19</span></div><div><span>05.02.19</span></div><div><span>06.02.19</span></div><div><span>07.02.19</span></div><div><span>09.02.19</span></div><div><span>27.03.19</span></div><div><span>07.04.19</span></div><div><span>03.06.19</span></div><div><span>17.06.19</span></div></div>
<div class="xl" style="left:1116.4px;top:900px;width:828.2px"><div><span>28.09.18</span></div><div><span>01.10.18</span></div><div><span>02.10.18</span></div><div><span>03.10.18</span></div><div><span>04.10.18</span></div><div><span>12.11.18</span></div><div><span>14.11.18</span></div><div><span>15.11.18</span></div><div><span>16.11.18</span></div><div><span>19.11.18</span></div><div><span>20.11.18</span></div><div><span>21.11.18</span></div><div><span>22.11.18</span></div><div><span>23.11.18</span></div><div><span>26.11.18</span></div><div><span>27.11.18</span></div><div><span>28.11.18</span></div><div><span>29.11.18</span></div><div><span>30.11.18</span></div><div><span>04.12.18</span></div><div><span>05.12.18</span></div><div><span>04.02.19</span></div><div><span>05.02.19</span></div><div><span>06.02.19</span></div><div><span>07.02.19</span></div><div><span>09.02.19</span></div><div><span>27.03.19</span></div><div><span>07.04.19</span></div><div><span>03.06.19</span></div><div><span>17.06.19</span></div></div>
<div class="xl" style="left:2113.3px;top:900px;width:829.3px"><div><span>28.09.18</span></div><div><span>01.10.18</span></div><div><span>02.10.18</span></div><div><span>03.10.18</span></div><div><span>04.10.18</span></div><div><span>12.11.18</span></div><div><span>14.11.18</span></div><div><span>15.11.18</span></div><div><span>16.11.18</span></div><div><span>19.11.18</span></div><div><span>20.11.18</span></div><div><span>21.11.18</span></div><div><span>22.11.18</span></div><div><span>23.11.18</span></div><div><span>26.11.18</span></div><div><span>27.11.18</span></div><div><span>28.11.18</span></div><div><span>29.11.18</span></div><div><span>30.11.18</span></div><div><span>04.12.18</span></div><div><span>05.12.18</span></div><div><span>04.02.19</span></div><div><span>05.02.19</span></div><div><span>06.02.19</span></div><div><span>07.02.19</span></div><div><span>09.02.19</span></div><div><span>27.03.19</span></div><div><span>07.04.19</span></div><div><span>03.06.19</span></div></div>
<div class="xl" style="left:118.3px;top:1893px;width:827.3px"><div><span>28.09.18</span></div><div><span>01.10.18</span></div><div><span>02.10.18</span></div><div><span>03.10.18</span></div><div><span>04.10.18</span></div><div><span>12.11.18</span></div><div><span>14.11.18</span></div><div><span>15.11.18</span></div><div><span>16.11.18</span></div><div><span>19.11.18</span></div><div><span>20.11.18</span></div><div><span>21.11.18</span></div><div><span>22.11.18</span></div><div><span>23.11.18</span></div><div><span>26.11.18</span></div><div><span>27.11.18</span></div><div><span>28.11.18</span></div><div><span>29.11.18</span></div><div><span>30.11.18</span></div><div><span>04.12.18</span></div><div><span>05.12.18</span></div><div><span>04.02.19</span></div><div><span>05.02.19</span></div><div><span>06.02.19</span></div><div><span>07.02.19</span></div><div><span>09.02.19</span></div><div><span>27.03.19</span></div><div><span>07.04.19</span></div><div><span>03.06.19</span></div><div><span>17.06.19</span></div></div>
<div class="xl" style="left:1116.4px;top:1893px;width:828.2px"><div><span>28.09.18</span></div><div><span>01.10.18</span></div><div><span>02.10.18</span></div><div><span>03.10.18</span></div><div><span>04.10.18</span></div><div><span>12.11.18</span></div><div><span>14.11.18</span></div><div><span>15.11.18</span></div><div><span>16.11.18</span></div><div><span>19.11.18</span></div><div><span>20.11.18</span></div><div><span>21.11.18</span></div><div><span>22.11.18</span></div><div><span>23.11.18</span></div><div><span>26.11.18</span></div><div><span>27.11.18</span></div><div><span>28.11.18</span></div><div><span>29.11.18</span></div><div><span>30.11.18</span></div><div><span>04.12.18</span></div><div><span>05.12.18</span></div><div><span>04.02.19</span></div><div><span>05.02.19</span></div><div><span>06.02.19</span></div><div><span>07.02.19</span></div><div><span>09.02.19</span></div><div><span>27.03.19</span></div><div><span>07.04.19</span></div><div><span>03.06.19</span></div><div><span>17.06.19</span></div></div>
<div class="xl" style="left:2113.4px;top:1893px;width:829.2px"><div><span>28.09.18</span></div><div><span>01.10.18</span></div><div><span>02.10.18</span></div><div><span>03.10.18</span></div><div><span>04.10.18</span></div><div><span>12.11.18</span></div><div><span>14.11.18</span></div><div><span>15.11.18</span></div><div><span>16.11.18</span></div><div><span>19.11.18</span></div><div><span>20.11.18</span></div><div><span>21.11.18</span></div><div><span>22.11.18</span></div><div><span>23.11.18</span></div><div><span>26.11.18</span></div><div><span>27.11.18</span></div><div><span>28.11.18</span></div><div><span>29.11.18</span></div><div><span>30.11.18</span></div><div><span>04.12.18</span></div><div><span>05.12.18</span></div><div><span>04.02.19</span></div><div><span>05.02.19</span></div><div><span>06.02.19</span></div><div><span>07.02.19</span></div><div><span>09.02.19</span></div><div><span>27.03.19</span></div><div><span>07.04.19</span></div><div><span>03.06.19</span></div><div><span>17.06.19</span></div></div>
</div></body></html>
